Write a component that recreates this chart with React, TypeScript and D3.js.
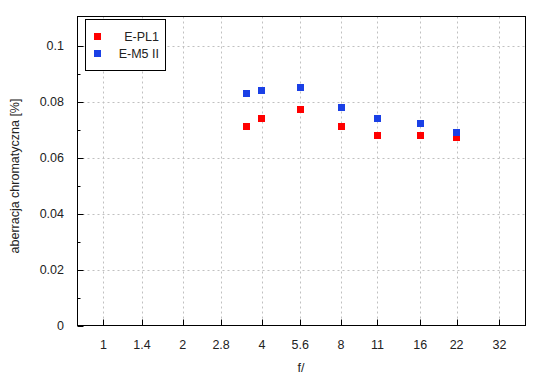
import React from "react";
import * as d3 from "d3";

const fStops = [1, 1.4, 2, 2.8, 4, 5.6, 8, 11, 16, 22, 32];
const xTickLabels = ["1", "1.4", "2", "2.8", "4", "5.6", "8", "11", "16", "22", "32"];
const apertures = [3.5, 4, 5.6, 8, 11, 16, 22];
const epl1 = [0.071, 0.074, 0.077, 0.071, 0.068, 0.068, 0.067];
const em5 = [0.083, 0.084, 0.085, 0.078, 0.074, 0.072, 0.069];
const yMajor = [0, 0.02, 0.04, 0.06, 0.08, 0.1];
const yMinor = [0.01, 0.03, 0.05, 0.07, 0.09];
const yTickLabels = ["0", "0.02", "0.04", "0.06", "0.08", "0.1"];
const seriesNames = ["E-PL1", "E-M5 II"];
const colors = ["#ff0000", "#1a40e6"];

export default function App() {
  const W = 550, H = 380;
  const left = 77.5, right = 525.5, top = 16.5, bottom = 325.5;
  const x = d3.scaleLog().base(2).domain([0.7965, 40.2]).range([left, right]);
  const y = d3.scaleLinear().domain([0, 0.1104]).range([bottom, top]);
  const font = "'Liberation Sans', Arial, sans-serif";
  const series = [epl1, em5];
  const ms = 7;
  return (
    <svg width={W} height={H} style={{ position: "absolute", left: 0, top: 0, background: "#fff" }} fontFamily={font}>
      <rect x={0} y={0} width={W} height={H} fill="#fff" />
      {fStops.map((f, i) => (
        <line key={"gx" + i} x1={Math.round(x(f)) + 0.5} x2={Math.round(x(f)) + 0.5} y1={top} y2={bottom}
          stroke="#c0c0c0" strokeDasharray="2,3" />
      ))}
      {yMajor.slice(1).map((v, i) => (
        <line key={"gy" + i} x1={left} x2={right} y1={Math.round(y(v)) + 0.5} y2={Math.round(y(v)) + 0.5}
          stroke="#c0c0c0" strokeDasharray="2,3" />
      ))}
      {fStops.map((f, i) => (
        <g key={"xt" + i}>
          <line x1={Math.round(x(f)) + 0.5} x2={Math.round(x(f)) + 0.5} y1={bottom} y2={bottom - 6} stroke="#000" />
          <text x={x(f)} y={349} textAnchor="middle" fontSize={12.5} fill="#222">{xTickLabels[i]}</text>
        </g>
      ))}
      {yMajor.map((v, i) => (
        <g key={"yt" + i}>
          <line x1={left} x2={left + 6} y1={Math.round(y(v)) + 0.5} y2={Math.round(y(v)) + 0.5} stroke="#000" />
          <text x={64} y={y(v)} dy="0.35em" textAnchor="end" fontSize={12.5} fill="#222">{yTickLabels[i]}</text>
        </g>
      ))}
      {yMinor.map((v, i) => (
        <line key={"ym" + i} x1={left} x2={left + 3} y1={Math.round(y(v)) + 0.5} y2={Math.round(y(v)) + 0.5} stroke="#000" />
      ))}
      <rect x={left} y={top} width={right - left} height={bottom - top} fill="none" stroke="#000" />
      {series.map((s, si) =>
        s.map((v, i) => (
          <rect key={"p" + si + "-" + i} x={Math.round(x(apertures[i]) - ms / 2)} y={Math.round(y(v) - ms / 2)}
            width={ms} height={ms} fill={colors[si]} />
        ))
      )}
      <rect x={85.5} y={19.5} width={80} height={51} fill="#fff" stroke="#000" />
      {seriesNames.map((n, i) => (
        <g key={"lg" + i}>
          <rect x={94} y={33 + i * 17} width={7} height={7} fill={colors[i]} />
          <text x={159} y={36.5 + i * 17} dy="0.35em" textAnchor="end" fontSize={12.5} fill="#222">{n}</text>
        </g>
      ))}
      <text x={301} y={372} textAnchor="middle" fontSize={12.5} fill="#222">f/</text>
      <text transform={`translate(19,176) rotate(-90)`} textAnchor="middle" fontSize={12.5} fill="#222">
        aberracja chromatyczna [%]
      </text>
    </svg>
  );
}
